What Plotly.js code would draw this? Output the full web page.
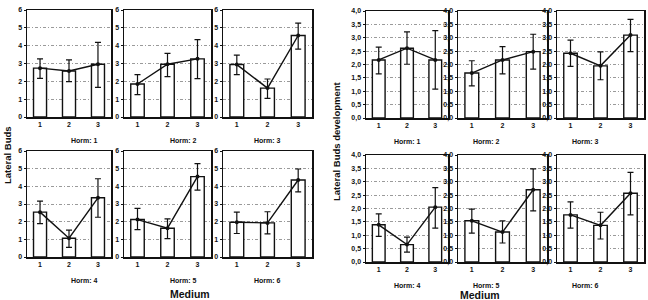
<!DOCTYPE html>
<html>
<head>
<meta charset="utf-8">
<script src="https://cdn.plot.ly/plotly-3.0.1.min.js"></script>
<style>
  html, body { margin: 0; padding: 0; background: #fff; }
  #chart { width: 648px; height: 300px; }
</style>
</head>
<body>
<div id="chart"></div>
<script>
// Medium categories on every small multiple
const medium = [1, 2, 3];
const hormLabels = ['Horm: 1', 'Horm: 2', 'Horm: 3', 'Horm: 4', 'Horm: 5', 'Horm: 6'];

// Lateral buds: means and confidence limits per hormone level
const budsMean = [
  [2.74, 2.58, 2.96],
  [1.85, 2.96, 3.26],
  [2.94, 1.62, 4.57],
  [2.54, 1.06, 3.35],
  [2.12, 1.63, 4.55],
  [1.97, 1.93, 4.36]
];
const budsHigh = [
  [3.26, 3.20, 4.19],
  [2.38, 3.57, 4.34],
  [3.47, 2.13, 5.26],
  [3.16, 1.52, 4.43],
  [2.75, 2.16, 5.28],
  [2.54, 2.56, 4.98]
];
const budsLow = [
  [2.17, 1.98, 1.66],
  [1.26, 2.26, 2.15],
  [2.38, 1.04, 3.81],
  [1.89, 0.55, 2.25],
  [1.55, 1.04, 3.79],
  [1.33, 1.31, 3.69]
];

// Lateral buds development: means and confidence limits
const devMean = [
  [2.17, 2.61, 2.17],
  [1.68, 2.17, 2.48],
  [2.42, 1.95, 3.10],
  [1.39, 0.65, 2.05],
  [1.54, 1.12, 2.70],
  [1.76, 1.37, 2.57]
];
const devHigh = [
  [2.65, 3.22, 3.27],
  [2.14, 2.67, 3.13],
  [2.91, 2.47, 3.69],
  [1.80, 0.93, 2.78],
  [1.98, 1.54, 3.48],
  [2.25, 1.86, 3.35]
];
const devLow = [
  [1.65, 2.01, 1.08],
  [1.20, 1.65, 1.83],
  [1.93, 1.43, 2.48],
  [0.96, 0.37, 1.27],
  [1.08, 0.71, 1.91],
  [1.27, 0.86, 1.76]
];

const W = 648, H = 300;
const FONT = 'Liberation Sans, Arial, sans-serif';

// pixel boxes of the plot areas [x0, x1, yTop, yBottom]
const leftCols = [[27, 111], [124, 211], [223, 312]];
const leftRows = [[10, 117], [151, 257]];
const rightCols = [[366, 448], [458, 547], [557, 644]];
const rightRows = [[11, 118], [155, 262]];

const traces = [];
const layout = {
  width: W, height: H,
  margin: {l: 0, r: 0, t: 0, b: 0},
  paper_bgcolor: '#fff', plot_bgcolor: '#fff',
  showlegend: false,
  separators: ',.',
  font: {family: FONT, color: '#111'},
  annotations: []
};

function addPanel(idx, box, mean, hi, lo, yCfg) {
  const n = idx + 1;
  const xa = 'x' + (n === 1 ? '' : n), ya = 'y' + (n === 1 ? '' : n);
  const xk = 'xaxis' + (n === 1 ? '' : n), yk = 'yaxis' + (n === 1 ? '' : n);
  layout[xk] = {
    domain: [box[0] / W, box[1] / W],
    anchor: ya,
    range: [0.55, 3.45],
    tickvals: medium,
    ticktext: medium.map(String),
    ticks: '', showgrid: false, zeroline: false,
    showline: true, mirror: true, linecolor: '#111', linewidth: 1.5,
    tickfont: {family: FONT, size: 7, weight: 'bold', color: '#111'},
    fixedrange: true
  };
  layout[yk] = Object.assign({
    domain: [1 - box[3] / H, 1 - box[2] / H],
    anchor: xa,
    ticks: 'outside', ticklen: 2, tickcolor: '#111',
    showgrid: true, gridcolor: '#9a9a9a', griddash: '3px,2px,1px,2px', gridwidth: 1,
    zeroline: false,
    showline: true, mirror: true, linecolor: '#111', linewidth: 1.5,
    tickfont: {family: FONT, size: 7, weight: 'bold', color: '#111'},
    fixedrange: true
  }, yCfg);

  traces.push({
    type: 'bar', x: medium, y: mean, xaxis: xa, yaxis: ya,
    width: 0.45,
    marker: {color: '#fff', line: {color: '#111', width: 1.4}},
    hoverinfo: 'skip'
  });
  traces.push({
    type: 'scatter', mode: 'lines+markers', x: medium, y: mean, xaxis: xa, yaxis: ya,
    line: {color: '#111', width: 1.4},
    marker: {color: '#111', size: 4},
    error_y: {
      type: 'data', symmetric: false,
      array: hi.map((v, i) => v - mean[i]),
      arrayminus: lo.map((v, i) => mean[i] - v),
      color: '#111', thickness: 1.2, width: 3
    }
  });
}

let k = 0;
for (let r = 0; r < 2; r++) {
  for (let c = 0; c < 3; c++) {
    const h = r * 3 + c;
    const box = [leftCols[c][0], leftCols[c][1], leftRows[r][0], leftRows[r][1]];
    addPanel(k++, box, budsMean[h], budsHigh[h], budsLow[h], {range: [0, 6], dtick: 1});
    layout.annotations.push({
      text: hormLabels[h], xref: 'paper', yref: 'paper', showarrow: false,
      x: (box[0] + box[1]) / 2 / W, y: 1 - (box[3] + 23) / H, yanchor: 'middle',
      font: {family: FONT, size: 7, weight: 'bold', color: '#111'}
    });
  }
}
for (let r = 0; r < 2; r++) {
  for (let c = 0; c < 3; c++) {
    const h = r * 3 + c;
    const box = [rightCols[c][0], rightCols[c][1], rightRows[r][0], rightRows[r][1]];
    addPanel(k++, box, devMean[h], devHigh[h], devLow[h], {range: [0, 4], dtick: 0.5, tickformat: '.1f'});
    layout.annotations.push({
      text: hormLabels[h], xref: 'paper', yref: 'paper', showarrow: false,
      x: (box[0] + box[1]) / 2 / W, y: 1 - (box[3] + 23) / H, yanchor: 'middle',
      font: {family: FONT, size: 7, weight: 'bold', color: '#111'}
    });
  }
}

// shared axis titles
const titleFont = {family: FONT, size: 10.5, weight: 'bold', color: '#111'};
layout.annotations.push(
  {text: 'Medium', xref: 'paper', yref: 'paper', showarrow: false,
   x: 168 / W, y: 1 - 294 / H, yanchor: 'middle', font: titleFont},
  {text: 'Medium', xref: 'paper', yref: 'paper', showarrow: false,
   x: 502 / W, y: 1 - 295 / H, yanchor: 'middle', font: titleFont},
  {text: 'Lateral Buds', xref: 'paper', yref: 'paper', showarrow: false,
   x: 7 / W, y: 1 - 155 / H, textangle: -90, xanchor: 'center', yanchor: 'middle',
   font: {family: FONT, size: 9.5, weight: 'bold', color: '#111'}},
  {text: 'Lateral Buds development', xref: 'paper', yref: 'paper', showarrow: false,
   x: 336 / W, y: 1 - 141 / H, textangle: -90, xanchor: 'center', yanchor: 'middle',
   font: {family: FONT, size: 9.5, weight: 'bold', color: '#111'}}
);

Plotly.newPlot('chart', traces, layout, {staticPlot: true, displayModeBar: false});
</script>
</body>
</html>
